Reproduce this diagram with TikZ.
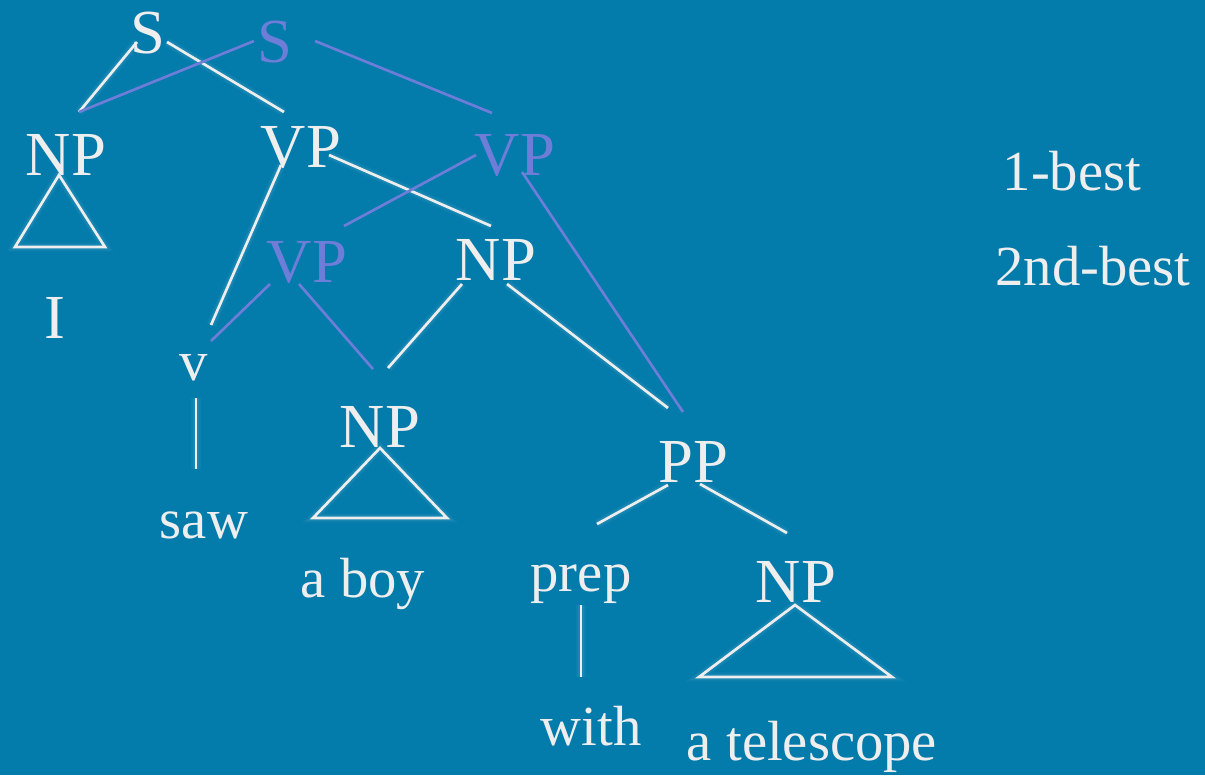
\documentclass[tikz,border=0pt]{standalone}
\usepackage{fontspec}
\setmainfont{Liberation Serif}
\definecolor{bgblue}{RGB}{3,123,171}
\definecolor{ink}{RGB}{238,238,238}
\definecolor{alt}{RGB}{110,126,216}
\begin{document}
\begin{tikzpicture}[x=0.75pt,y=-0.75pt,
  cat/.style={inner sep=0pt,anchor=base,font=\fontsize{47}{50}\selectfont},
  word/.style={inner sep=0pt,anchor=base,font=\fontsize{42.5}{46}\selectfont},
  best/.style={text=ink},
  second/.style={text=alt},
  edge/.style={draw=ink,line width=2pt,
    preaction={draw=white,line width=7pt,opacity=0.04},
    preaction={draw=white,line width=4.5pt,opacity=0.06}},
  altedge/.style={draw=alt,line width=2pt},
  roof/.style={edge,line join=miter}]
\fill[bgblue] (0,0) rectangle (1205,775);
\useasboundingbox (0,0) rectangle (1205,775);

% connector ends
\coordinate (S1l)  at (137,42);  \coordinate (S1r)  at (167,42);
\coordinate (S2l)  at (254,41);  \coordinate (S2r)  at (315,41);
\coordinate (NPiT) at (79,112);
\coordinate (VP1T) at (284,112); \coordinate (VP2T) at (492,113);
\coordinate (VP1l) at (281,165); \coordinate (VP1r) at (329,155);
\coordinate (VP2l) at (476,155); \coordinate (VP2b) at (522,172);
\coordinate (NPmT) at (491,226); \coordinate (VP3T) at (344,226);
\coordinate (VP3l) at (270,284); \coordinate (VP3r) at (299,284);
\coordinate (NPml) at (462,284); \coordinate (NPmr) at (507,284);
\coordinate (VTw)  at (211,325); \coordinate (VTa)  at (211,341);
\coordinate (NPbT1) at (373,369); \coordinate (NPbT2) at (388,368);
\coordinate (PPT1) at (668,408); \coordinate (PPT2) at (683,412);
\coordinate (Vb)   at (196,398); \coordinate (sawT) at (196,469);
\coordinate (PPl)  at (668,485); \coordinate (PPr)  at (700,484);
\coordinate (prepT) at (597,524); \coordinate (NPtT) at (787,533);
\coordinate (prepB) at (581,605); \coordinate (withT) at (581,677);

% first-best tree
\draw[edge] (S1l) -- (NPiT);
\draw[edge] (S1r) -- (VP1T);
\draw[edge] (VP1l) -- (VTw);
\draw[edge] (VP1r) -- (NPmT);
\draw[edge] (NPml) -- (NPbT2);
\draw[edge] (NPmr) -- (PPT1);
\draw[edge] (Vb) -- (sawT);
\draw[edge] (PPl) -- (prepT);
\draw[edge] (PPr) -- (NPtT);
\draw[edge] (prepB) -- (withT);

% second-best tree
\draw[altedge] (S2l) -- (NPiT);
\draw[altedge] (S2r) -- (VP2T);
\draw[altedge] (VP2l) -- (VP3T);
\draw[altedge] (VP2b) -- (PPT2);
\draw[altedge] (VP3l) -- (VTa);
\draw[altedge] (VP3r) -- (NPbT1);

% roofs over unanalysed constituents
\draw[roof] (59,175) -- (15,247) -- (105,247) -- cycle;
\draw[roof] (380,448) -- (313,518) -- (447,518) -- cycle;
\draw[roof] (795,605) -- (699,677) -- (892,677) -- cycle;

% category labels
\node[cat,best]   (S1)   at (148,53)  {S};
\node[cat,second] (S2)   at (275,62)  {S};
\node[cat,best]   (NPi)  at (66,175)  {NP};
\node[cat,best]   (VP1)  at (301,167) {VP};
\node[cat,second] (VP2)  at (515,175) {VP};
\node[cat,second] (VP3)  at (307,282) {VP};
\node[cat,best]   (NPm)  at (496,280) {NP};
\node[word,best]  (V)    at (194,380) {v};
\node[cat,best]   (NPb)  at (380,447) {NP};
\node[cat,best]   (PP)   at (693,482) {PP};
\node[word,best]  (Prep) at (581,591) {prep};
\node[cat,best]   (NPt)  at (796,602) {NP};

% words
\node[cat,best]   (wI)    at (55,338)  {I};
\node[word,best]  (wSaw)  at (204,538) {saw};
\node[word,best]  (wBoy)  at (363,597) {a boy};
\node[word,best]  (wWith) at (591,745) {with};
\node[word,best]  (wTel)  at (812,760) {a telescope};

% legend
\node[word,best]  (L1)   at (1072,190) {1-best};
\node[word,best]  (L2)   at (1093,285) {2nd-best};
\end{tikzpicture}
\end{document}
